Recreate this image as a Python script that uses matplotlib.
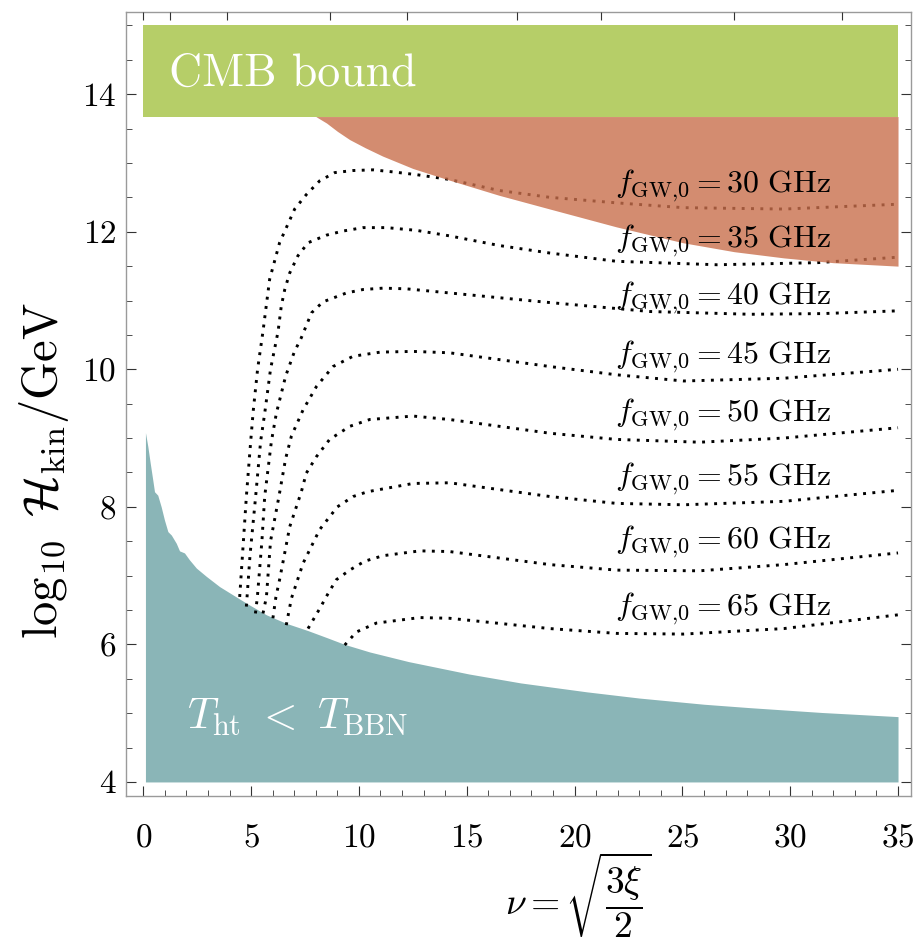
import matplotlib
matplotlib.use("Agg")
import matplotlib.pyplot as plt
import numpy as np
from matplotlib.ticker import MultipleLocator

plt.rcParams["font.family"] = "serif"
plt.rcParams["font.serif"] = ["cmr10", "DejaVu Serif"]
plt.rcParams["mathtext.fontset"] = "cm"
plt.rcParams["axes.formatter.use_mathtext"] = True

# excluded regions
cmb_nu = [0.0, 35.0]
cmb_lo = 13.675
cmb_hi = 15.0

orange_nu = [8.0, 8.5, 9.0, 9.57, 10.3, 11.1, 12.5, 14.2, 16.5, 18.86, 21.95, 25.03,
             27.4, 29.7, 32.0, 35.0]
orange_lo = [13.675, 13.58, 13.46, 13.34, 13.22, 13.10, 12.92, 12.75, 12.53, 12.33,
             12.07, 11.84, 11.71, 11.62, 11.55, 11.5]

bbn_nu = [0.1, 0.21, 0.32, 0.44, 0.52, 0.67, 0.83, 0.98, 1.14, 1.3, 1.53, 1.68, 1.91,
          2.14, 2.46, 2.92, 3.54, 4.16, 4.78, 5.71, 6.6, 7.64, 8.5, 9.34, 10.5, 12.3,
          15.1, 17.5, 20.57, 23.0, 26.0, 28.14, 31.47, 35.0]
bbn_hi = [9.08, 8.88, 8.64, 8.39, 8.22, 8.17, 8.0, 7.81, 7.64, 7.59, 7.47, 7.36, 7.33,
          7.23, 7.11, 6.99, 6.84, 6.72, 6.6, 6.43, 6.31, 6.2, 6.1, 6.0, 5.89, 5.75,
          5.57, 5.44, 5.31, 5.22, 5.13, 5.08, 5.01, 4.95]
bbn_lo = 4.0

# contours of fixed present-day frequency
freqs = [30, 35, 40, 45, 50, 55, 60, 65]
nu_30 = [4.47, 4.6, 4.78, 4.98, 5.1, 5.3, 5.55, 5.86, 6.32, 7.02, 7.56, 8.18, 8.88, 9.73,
         10.66, 11.58, 12.67, 14.2, 16.5, 18.86, 21.95, 25.05, 29.7, 35.0]
h_30 = [6.69, 7.3, 8.15, 8.95, 9.4, 10.0, 10.55, 11.31, 11.84, 12.33, 12.54, 12.74, 12.86,
        12.89, 12.9, 12.87, 12.83, 12.76, 12.6, 12.5, 12.42, 12.35, 12.33, 12.40]
nu_35 = [4.78, 4.95, 5.21, 5.44, 5.63, 5.9, 6.25, 6.4, 6.56, 6.79, 7.17, 7.64, 8.49, 9.26,
         10.19, 11.28, 12.67, 14.2, 16.5, 18.86, 21.95, 26.6, 31.24, 35.0]
h_35 = [6.55, 7.3, 8.15, 8.95, 9.36, 10.0, 10.55, 10.92, 11.16, 11.40, 11.65, 11.84, 11.95,
        12.01, 12.06, 12.06, 12.02, 11.94, 11.8, 11.69, 11.57, 11.52, 11.55, 11.63]
nu_40 = [5.2, 5.29, 5.5, 5.63, 5.94, 6.17, 6.6, 7.0, 7.33, 7.8, 8.33, 9.42, 10.19, 11.12,
         12.2, 14.2, 18.86, 23.5, 28.15, 31.5, 35.0]
h_40 = [6.45, 6.69, 7.5, 8.15, 8.95, 9.36, 9.9, 10.25, 10.46, 10.82, 10.98, 11.11, 11.16,
        11.18, 11.17, 11.11, 10.97, 10.84, 10.80, 10.81, 10.85]
nu_45 = [5.55, 5.71, 5.9, 6.29, 6.6, 6.87, 7.41, 8.03, 8.8, 9.73, 11.0, 12.51, 14.2, 18.86,
         21.95, 25.05, 29.7, 35.0]
h_45 = [6.45, 6.69, 7.5, 8.15, 8.7, 9.03, 9.41, 9.75, 10.04, 10.19, 10.25, 10.26, 10.24,
        10.04, 9.92, 9.83, 9.87, 10.0]
nu_50 = [6.01, 6.15, 6.32, 6.48, 6.79, 7.33, 7.56, 8.03, 8.64, 9.57, 10.5, 12.51, 14.2,
         18.86, 21.95, 25.8, 29.7, 35.0]
h_50 = [6.38, 6.69, 6.94, 7.2, 7.71, 8.22, 8.49, 8.73, 8.98, 9.17, 9.27, 9.32, 9.27,
        9.07, 8.98, 8.94, 9.0, 9.15]
nu_55 = [6.63, 6.87, 7.41, 8.18, 9.0, 9.73, 10.4, 12.51, 14.2, 18.86, 21.95, 25.05, 29.7, 35.0]
h_55 = [6.28, 6.67, 7.18, 7.67, 8.0, 8.15, 8.22, 8.34, 8.35, 8.15, 8.05, 8.03, 8.08, 8.24]
nu_60 = [7.64, 8.18, 8.57, 8.95, 9.57, 10.27, 11.12, 12.83, 14.2, 18.86, 21.95, 25.8, 29.7, 35.0]
h_60 = [6.23, 6.52, 6.74, 6.94, 7.08, 7.21, 7.29, 7.36, 7.35, 7.16, 7.08, 7.07, 7.16, 7.33]
nu_65 = [9.34, 9.88, 10.81, 12.82, 14.2, 18.86, 21.95, 25.05, 29.7, 35.0]
h_65 = [5.99, 6.18, 6.31, 6.39, 6.38, 6.23, 6.16, 6.15, 6.23, 6.43]

curves_nu = [nu_30, nu_35, nu_40, nu_45, nu_50, nu_55, nu_60, nu_65]
curves_h = [h_30, h_35, h_40, h_45, h_50, h_55, h_60, h_65]
label_h = [12.57, 11.77, 10.94, 10.09, 9.24, 8.32, 7.40, 6.43]

# top ticks mark xi values
xi_top = [0, 1, 10, 50, 100, 200, 300, 500, 700]

fig = plt.figure(figsize=(9.16, 9.4), dpi=100)
ax = fig.add_axes([0.1376, 0.1535, 0.8569, 0.8341])

ax.fill_between(cmb_nu, cmb_lo, cmb_hi, color="#b6ce68", lw=0, zorder=1)
# drawn over the contours, so they show through it
ax.fill_between(orange_nu, orange_lo, cmb_lo, color="#c96f4c", alpha=0.8, lw=0, zorder=3)
ax.fill_between(bbn_nu, bbn_lo, bbn_hi, color="#8ab5b7", lw=0, zorder=1)

for nu, h in zip(curves_nu, curves_h):
    ax.plot(nu, h, color="black", lw=2.1, linestyle=(0, (1.0, 2.2)),
            dash_capstyle="butt", zorder=2)

for f, yh in zip(freqs, label_h):
    ax.text(31.9, yh, r"$f_{\mathrm{GW{,}0}} = %d\ \mathrm{GHz}$" % f,
            fontsize=23, ha="right", va="baseline", zorder=4)

ax.text(1.2, 14.12, "CMB bound", color="white", fontsize=33, va="baseline", zorder=4)
ax.text(2.05, 4.77, r"$T_{\mathrm{ht}}\ <\ T_{\mathrm{BBN}}$", color="white",
        fontsize=31, va="baseline", zorder=4)

ax.set_xlim(-0.8, 35.6)
ax.set_ylim(3.8, 15.2)
ax.xaxis.set_major_locator(MultipleLocator(5))
ax.xaxis.set_minor_locator(MultipleLocator(1))
ax.yaxis.set_major_locator(MultipleLocator(2))
ax.yaxis.set_minor_locator(MultipleLocator(0.5))
ax.tick_params(which="both", direction="in", right=True, top=False,
               color="#333333", labelsize=24)
ax.tick_params(which="major", length=7, width=0.8)
ax.tick_params(which="minor", length=4, width=0.6)
ax.tick_params(axis="x", pad=20)
ax.tick_params(axis="y", pad=7)
for s in ax.spines.values():
    s.set_color("#9a9a9a")
    s.set_linewidth(1.0)

ax2 = ax.twiny()
ax2.set_xlim(ax.get_xlim())
ax2.set_xticks(np.sqrt(1.5 * np.array(xi_top)))
ax2.set_xticklabels([])
ax2.tick_params(direction="in", length=6, width=0.8, color="#333333")
for s in ax2.spines.values():
    s.set_visible(False)

# x label placed by its baseline
fig.text(0.631, 0.026, r"$\nu = \sqrt{\dfrac{3\xi}{2}}$", fontsize=27,
         ha="center", va="baseline")
ax.set_ylabel(r"$\log_{10}\ \mathcal{H}_{\mathrm{kin}}/\mathrm{GeV}$", fontsize=35)
ax.yaxis.set_label_coords(-0.07, 0.415)

fig.savefig("out.png", dpi=100)
